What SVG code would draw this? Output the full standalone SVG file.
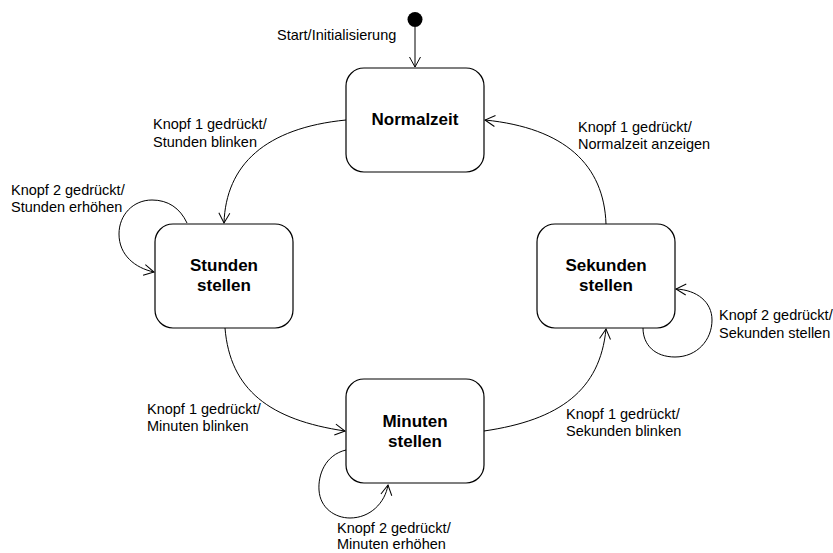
<svg xmlns="http://www.w3.org/2000/svg" width="833" height="553" viewBox="0 0 833 553">
<defs>
<style>
.state{fill:#fff;stroke:#000;stroke-width:1.2}
.name{font-family:"Liberation Sans",Arial,sans-serif;font-size:17px;font-weight:bold;text-anchor:middle;fill:#000}
.lbl{font-family:"Liberation Sans",Arial,sans-serif;font-size:14.5px;fill:#000}
.edge{fill:none;stroke:#000;stroke-width:1;marker-end:url(#arr)}
</style>
<marker id="arr" markerUnits="userSpaceOnUse" markerWidth="12" markerHeight="12" refX="10" refY="6" orient="auto" overflow="visible">
<path d="M0,0.5 L10,6 L0,11.5" fill="none" stroke="#000" stroke-width="1"/>
</marker>
</defs>
<rect width="833" height="553" fill="#fff"/>
<g id="connectors">
<path class="edge" d="M415,27 L415,67"/>
<path class="edge" d="M346,120 C265,128 226,165 224,223"/>
<path class="edge" d="M187,223 C180,208 168,200 152,200 C133,200 119,215 119,234 C119,255 135,268 154,272"/>
<path class="edge" d="M225,328 C230,390 270,420 345,431"/>
<path class="edge" d="M346,450 C325,455 318,475 319,490 C320,508 335,518 350,518 C370,518 385,503 388,485"/>
<path class="edge" d="M484,431 C560,420 600,390 606,329"/>
<path class="edge" d="M643,328 C643,345 655,357 675,357 C697,357 712,340 712,320 C712,302 697,290 676,289"/>
<path class="edge" d="M606,224 C604,165 565,128 485,120"/>
</g>
<g id="start">
<circle cx="415" cy="19.5" r="7.5" fill="#000"/>
</g>
<g id="normalzeit">
<rect class="state" x="346" y="68" width="138" height="104" rx="18"/>
<text class="name" x="415" y="125">Normalzeit</text>
</g>
<g id="stunden">
<rect class="state" x="155" y="224" width="138" height="104" rx="18"/>
<text class="name" x="224" y="271">Stunden</text>
<text class="name" x="224" y="291">stellen</text>
</g>
<g id="sekunden">
<rect class="state" x="537" y="224" width="138" height="104" rx="18"/>
<text class="name" x="606" y="271">Sekunden</text>
<text class="name" x="606" y="291">stellen</text>
</g>
<g id="minuten">
<rect class="state" x="346" y="379" width="138" height="104" rx="18"/>
<text class="name" x="415" y="427">Minuten</text>
<text class="name" x="415" y="447">stellen</text>
</g>
<g id="labels">
<text class="lbl" x="277" y="40">Start/Initialisierung</text>
<text class="lbl" x="153" y="129">Knopf 1 gedrückt/</text>
<text class="lbl" x="153" y="146.5">Stunden blinken</text>
<text class="lbl" x="11" y="194.5">Knopf 2 gedrückt/</text>
<text class="lbl" x="11" y="212">Stunden erhöhen</text>
<text class="lbl" x="578" y="131.5">Knopf 1 gedrückt/</text>
<text class="lbl" x="578" y="149">Normalzeit anzeigen</text>
<text class="lbl" x="719" y="320">Knopf 2 gedrückt/</text>
<text class="lbl" x="719" y="337.5">Sekunden stellen</text>
<text class="lbl" x="147" y="413.5">Knopf 1 gedrückt/</text>
<text class="lbl" x="147" y="431">Minuten blinken</text>
<text class="lbl" x="566" y="418.5">Knopf 1 gedrückt/</text>
<text class="lbl" x="566" y="436">Sekunden blinken</text>
<text class="lbl" x="337" y="533">Knopf 2 gedrückt/</text>
<text class="lbl" x="337" y="549">Minuten erhöhen</text>
</g>
</svg>
